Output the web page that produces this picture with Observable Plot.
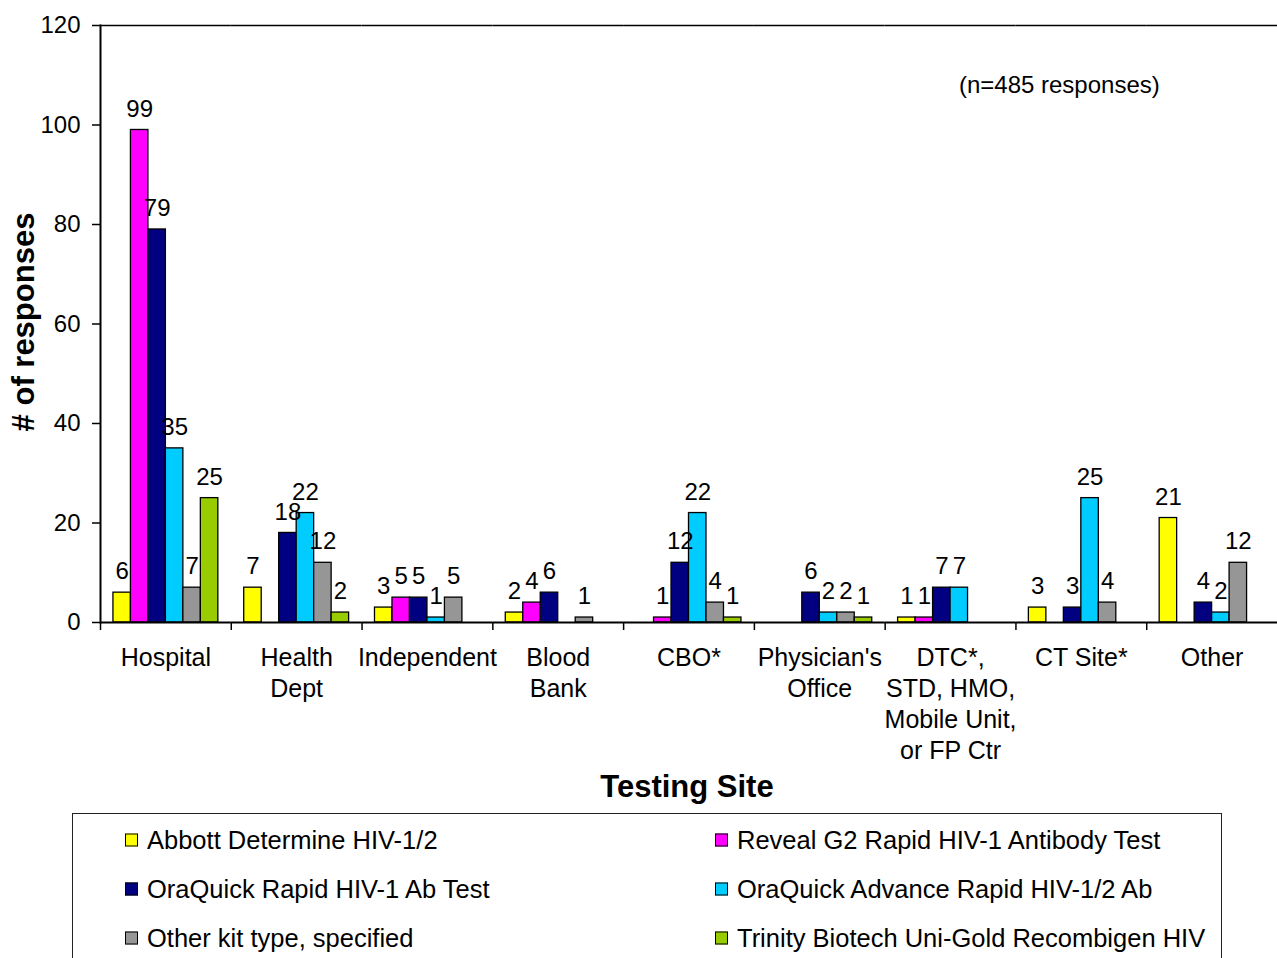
<!DOCTYPE html>
<html><head><meta charset="utf-8">
<script src="https://cdn.jsdelivr.net/npm/d3@7"></script>
<script src="https://cdn.jsdelivr.net/npm/@observablehq/plot@0.6"></script>
<style>
body{margin:0;background:#fff;font-family:"Liberation Sans",Arial,sans-serif;color:#000;}
#wrap{position:relative;width:1277px;height:958px;overflow:hidden;}
#chart{position:absolute;left:0;top:0;}
#ylab{position:absolute;left:24px;top:322px;transform:translate(-50%,-50%) rotate(-90deg);font-weight:bold;font-size:31px;white-space:nowrap;}
#xlab{position:absolute;left:687px;top:787px;transform:translate(-50%,-50%);font-weight:bold;font-size:31px;white-space:nowrap;}
#legend{position:absolute;left:72px;top:813px;width:1150px;height:170px;border:1.3px solid #222;box-sizing:border-box;}
.item{position:absolute;display:flex;align-items:center;font-size:25.5px;white-space:nowrap;transform:translateY(-50%);}
.sw{width:11px;height:11px;border:1px solid #000;margin-right:9px;}
</style></head><body>
<div id="wrap">
<div id="chart"></div>
<div id="ylab"># of responses</div>
<div id="xlab">Testing Site</div>
<div id="legend"></div>
</div>
<script>
const sites = ["Hospital","Health\nDept","Independent","Blood\nBank","CBO*","Physician's\nOffice","DTC*,\nSTD, HMO,\nMobile Unit,\nor FP Ctr","CT Site*","Other"];
const kits = ["Abbott Determine HIV-1/2","Reveal G2 Rapid HIV-1 Antibody Test","OraQuick Rapid HIV-1 Ab Test","OraQuick Advance Rapid HIV-1/2 Ab","Other kit type, specified","Trinity Biotech Uni-Gold Recombigen HIV"];
const kitColors = ["#FFFF00","#FF00FF","#000080","#00CCFF","#969696","#99CC00"];
const abbott   = [6, 7, 3, 2, 0, 0, 1, 3, 21];
const reveal   = [99, 0, 5, 4, 1, 0, 1, 0, 0];
const oraquick = [79, 18, 5, 6, 12, 6, 7, 3, 4];
const advance  = [35, 22, 1, 0, 22, 2, 7, 25, 2];
const otherKit = [7, 12, 5, 1, 4, 2, 0, 4, 12];
const trinity  = [25, 2, 0, 0, 1, 1, 0, 0, 0];
const yTicks = [0, 20, 40, 60, 80, 100, 120];
const note = "(n=485 responses)";
const noteSite = "CT Site*";
const noteY = 108;

const series = [abbott, reveal, oraquick, advance, otherKit, trinity];
const rows = [];
sites.forEach((s, i) => series.forEach((arr, k) => rows.push({site: s, kit: kits[k], value: arr[i]})));
const shown = rows.filter(d => d.value > 0);

const W = 1277, ML = 100, MR = 0;
const bw = (W - ML - MR) / sites.length;

const chart = Plot.plot({
  width: W, height: 770,
  marginLeft: ML, marginRight: MR, marginTop: 25, marginBottom: 148,
  style: {fontFamily: '"Liberation Sans", Arial, sans-serif', fontSize: "24px", color: "#000", background: "#fff"},
  fx: {domain: sites, padding: 0, round: false, label: null},
  x: {domain: kits, paddingInner: 0, paddingOuter: 0.74, round: false, axis: null},
  y: {domain: [0, 120], label: null},
  color: {domain: kits, range: kitColors},
  marks: [
    Plot.ruleY([120], {stroke: "#000", strokeWidth: 1.3}),
    Plot.barY(shown, {fx: "site", x: "kit", y: "value", fill: "kit", stroke: "#000", strokeWidth: 1.3}),
    Plot.text(shown, {fx: "site", x: "kit", y: "value", text: d => String(d.value), dy: -21, fontSize: 24}),
    Plot.ruleY([0], {stroke: "#000", strokeWidth: 2}),
    Plot.frame({anchor: "left", facetAnchor: "left", stroke: "#000", strokeWidth: 2}),
    Plot.axisY({ticks: yTicks, tickSize: 8, tickPadding: 12, label: null, fontSize: 24, strokeWidth: 1.5}),
    Plot.axisFx({anchor: "bottom", tickSize: 8, tickFormat: () => "", dx: -bw / 2, label: null, strokeWidth: 1.5}),
    Plot.axisFx({anchor: "bottom", tickSize: 0, tickPadding: 21, lineHeight: 1.24, label: null, fontSize: 25}),
    Plot.text([{site: noteSite, y: noteY}], {fx: "site", y: "y", text: () => note, dx: -22, fontSize: 24})
  ]
});
document.getElementById("chart").appendChild(chart);

const legend = document.getElementById("legend");
const rowCenters = [26, 75, 124];
const colLefts = [52, 642];
kits.forEach((k, i) => {
  const it = document.createElement("div");
  it.className = "item";
  it.style.left = colLefts[i % 2] + "px";
  it.style.top = rowCenters[Math.floor(i / 2)] + "px";
  it.innerHTML = `<span class="sw" style="background:${kitColors[i]}"></span><span>${k}</span>`;
  legend.appendChild(it);
});
</script>
</body></html>
